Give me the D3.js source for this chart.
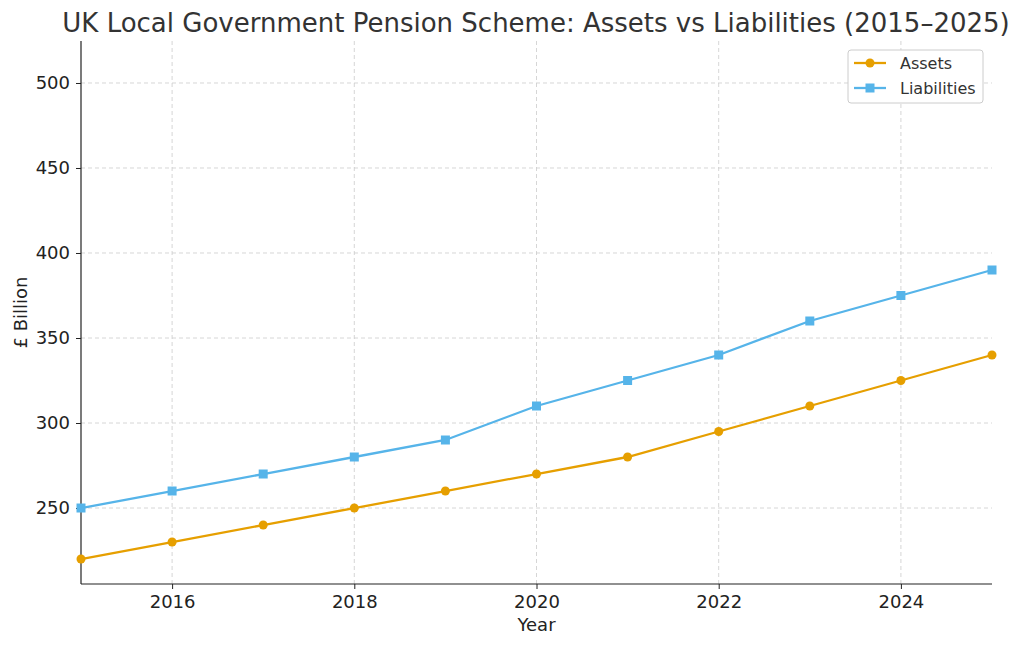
<!DOCTYPE html>
<html lang="en">
<head>
<meta charset="utf-8">
<title>LGPS assets vs liabilities</title>
<script src="https://cdn.jsdelivr.net/npm/d3@7"></script>
<style>
  body { margin: 0; background: #fff; }
  text { font-family: "DejaVu Sans", sans-serif; }
</style>
</head>
<body>
<script>
var years = [2015, 2016, 2017, 2018, 2019, 2020, 2021, 2022, 2023, 2024, 2025];
var assets = [220, 230, 240, 250, 260, 270, 280, 295, 310, 325, 340];
var liabilities = [250, 260, 270, 280, 290, 310, 325, 340, 360, 375, 390];
var xTicks = [2016, 2018, 2020, 2022, 2024];
var yTicks = [250, 300, 350, 400, 450, 500];

var w = 1024, h = 647;
var pLeft = 81, pRight = 992, pTop = 41, pBottom = 584;

var x = d3.scaleLinear().domain([2015, 2025]).range([pLeft, pRight]);
var y = d3.scaleLinear().domain([205.3, 524.7]).range([pBottom, pTop]);

var svg = d3.select("body").append("svg").attr("width", w).attr("height", h);

// grid
svg.append("g").selectAll("line").data(xTicks).enter().append("line")
    .attr("x1", d => x(d)).attr("x2", d => x(d)).attr("y1", pTop).attr("y2", pBottom)
    .attr("stroke", "#ccc").attr("stroke-dasharray", "4,3").attr("stroke-width", 0.8);
svg.append("g").selectAll("line").data(yTicks).enter().append("line")
    .attr("x1", pLeft).attr("x2", pRight).attr("y1", d => y(d)).attr("y2", d => y(d))
    .attr("stroke", "#ccc").attr("stroke-dasharray", "4,3").attr("stroke-width", 0.8);

// axes
var xAxis = svg.append("g").attr("transform", "translate(0," + pBottom + ")")
    .call(d3.axisBottom(x).tickValues(xTicks).tickFormat(d3.format("d")).tickSizeOuter(0).tickSize(5).tickPadding(6));
var yAxis = svg.append("g").attr("transform", "translate(" + pLeft + ",0)")
    .call(d3.axisLeft(y).tickValues(yTicks).tickSizeOuter(0).tickSize(5).tickPadding(6));
[xAxis, yAxis].forEach(function(a){
    a.selectAll("text").attr("font-size", 18).attr("fill", "#222").attr("font-family", "DejaVu Sans, sans-serif");
    a.select(".domain").attr("stroke", "#222").attr("stroke-width", 1.2);
    a.selectAll(".tick line").attr("stroke", "#222");
});
yAxis.select(".domain").attr("d", "M0," + pTop + "V" + pBottom);
xAxis.select(".domain").attr("d", "M" + pLeft + ",0H" + pRight);

// series
var series = [
    {name: "Assets", values: assets, color: "#E69F00", shape: "circle"},
    {name: "Liabilities", values: liabilities, color: "#56B4E9", shape: "square"}
];
var line = d3.line().x((d, i) => x(years[i])).y(d => y(d));

series.forEach(function(s){
    svg.append("path").datum(s.values).attr("d", line)
        .attr("fill", "none").attr("stroke", s.color).attr("stroke-width", 2.3);
    var g = svg.append("g");
    if (s.shape === "circle") {
        g.selectAll("circle").data(s.values).enter().append("circle")
            .attr("cx", (d, i) => x(years[i])).attr("cy", d => y(d)).attr("r", 4.5).attr("fill", s.color);
    } else {
        g.selectAll("rect").data(s.values).enter().append("rect")
            .attr("x", (d, i) => x(years[i]) - 4.5).attr("y", d => y(d) - 4.5)
            .attr("width", 9).attr("height", 9).attr("fill", s.color);
    }
});

// labels
svg.append("text").attr("x", 536).attr("y", 32).attr("text-anchor", "middle")
    .attr("font-size", 26).attr("fill", "#333")
    .text("UK Local Government Pension Scheme: Assets vs Liabilities (2015\u20132025)");
svg.append("text").attr("x", (pLeft + pRight) / 2).attr("y", 631).attr("text-anchor", "middle")
    .attr("font-size", 18).attr("fill", "#222").text("Year");
svg.append("text").attr("transform", "translate(27," + ((pTop + pBottom) / 2) + ") rotate(-90)")
    .attr("text-anchor", "middle").attr("font-size", 18).attr("fill", "#222").text("\u00a3 Billion");

// legend
var lg = svg.append("g").attr("transform", "translate(848,50)");
lg.append("rect").attr("width", 135).attr("height", 53).attr("rx", 3)
    .attr("fill", "#fff").attr("stroke", "#ccc");
series.forEach(function(s, i){
    var yy = 13 + i * 25;
    lg.append("line").attr("x1", 6).attr("x2", 38).attr("y1", yy).attr("y2", yy)
        .attr("stroke", s.color).attr("stroke-width", 2.3);
    if (s.shape === "circle") lg.append("circle").attr("cx", 22).attr("cy", yy).attr("r", 4.5).attr("fill", s.color);
    else lg.append("rect").attr("x", 17.5).attr("y", yy - 4.5).attr("width", 9).attr("height", 9).attr("fill", s.color);
    lg.append("text").attr("x", 52).attr("y", yy + 5.5).attr("font-size", 16).attr("fill", "#333").text(s.name);
});
</script>
</body>
</html>
